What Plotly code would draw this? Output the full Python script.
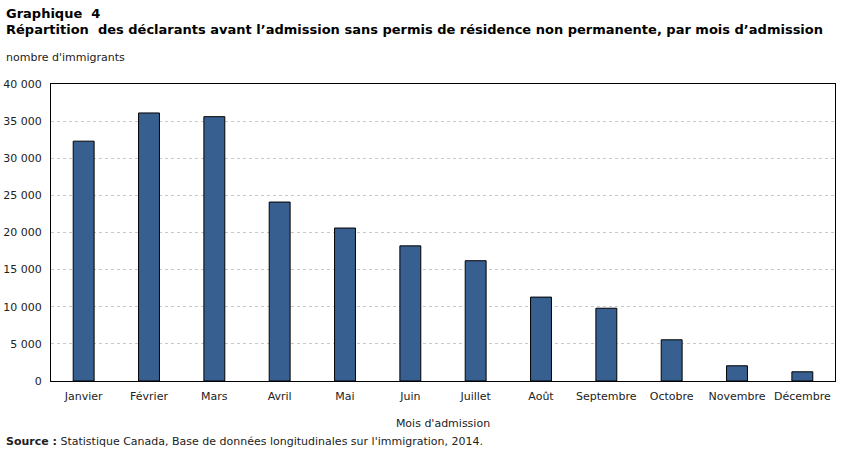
import plotly.graph_objects as go

months = ["Janvier", "Février", "Mars", "Avril", "Mai", "Juin", "Juillet",
          "Août", "Septembre", "Octobre", "Novembre", "Décembre"]
values = [32300, 36100, 35600, 24100, 20600, 18200, 16200, 11300, 9800, 5550, 2050, 1240]
y_tickvals = [0, 5000, 10000, 15000, 20000, 25000, 30000, 35000, 40000]
y_ticktext = ["0", "5 000", "10 000", "15 000", "20 000", "25 000", "30 000", "35 000", "40 000"]

FONT = "DejaVu Sans, Verdana, sans-serif"

fig = go.Figure(go.Bar(
    x=months, y=values,
    marker=dict(color="#375F8F", line=dict(color="black", width=1)),
    width=0.32,
))

fig.update_layout(
    width=851, height=454,
    margin=dict(l=51, r=16, t=84, b=73, autoexpand=False),
    plot_bgcolor="white", paper_bgcolor="white",
    font=dict(family=FONT, size=11, color="#222"),
    showlegend=False,
    xaxis=dict(
        showline=True, linecolor="black", linewidth=1, mirror=True,
        ticks="", ticklabelstandoff=5, automargin=False,
        tickfont=dict(size=11, family=FONT, color="#222"),
        title=dict(text="Mois d'admission", font=dict(size=11, family=FONT, color="#222"), standoff=17),
    ),
    yaxis=dict(
        range=[0, 40000], tickvals=y_tickvals, ticktext=y_ticktext,
        showline=True, linecolor="black", linewidth=1, mirror=True,
        showgrid=True, gridcolor="#C8C8C8", griddash="dot", gridwidth=1,
        ticks="", zeroline=False, ticklabelstandoff=6, automargin=False,
        tickfont=dict(size=11, family=FONT, color="#222"),
    ),
    annotations=[
        dict(text="<b>Graphique  4</b>", x=4, y=454 - 13,
             showarrow=False, xanchor="left", yanchor="middle",
             font=dict(size=13, family=FONT, color="black")),
        dict(text="<b>Répartition  des déclarants avant l’admission sans permis de résidence non permanente, par mois d’admission</b>",
             x=4, y=454 - 30, showarrow=False, xanchor="left", yanchor="middle",
             font=dict(size=13, family=FONT, color="black")),
        dict(text="nombre d'immigrants", x=4, y=454 - 57, showarrow=False,
             xanchor="left", yanchor="middle", font=dict(size=11, family=FONT, color="#222")),
        dict(text="<b>Source :</b> Statistique Canada, Base de données longitudinales sur l'immigration, 2014.",
             x=4, y=454 - 441, showarrow=False, xanchor="left", yanchor="middle",
             font=dict(size=11, family=FONT, color="#222")),
    ],
)

# convert annotation pixel coords to paper coords
plot_h = 454 - 84 - 73
plot_w = 851 - 51 - 16
for a in fig.layout.annotations:
    px_x, px_y = a.x, a.y
    a.xref = "paper"; a.yref = "paper"
    a.x = (px_x - 51) / plot_w
    a.y = (px_y - 73) / plot_h

fig.write_html("out.html")
